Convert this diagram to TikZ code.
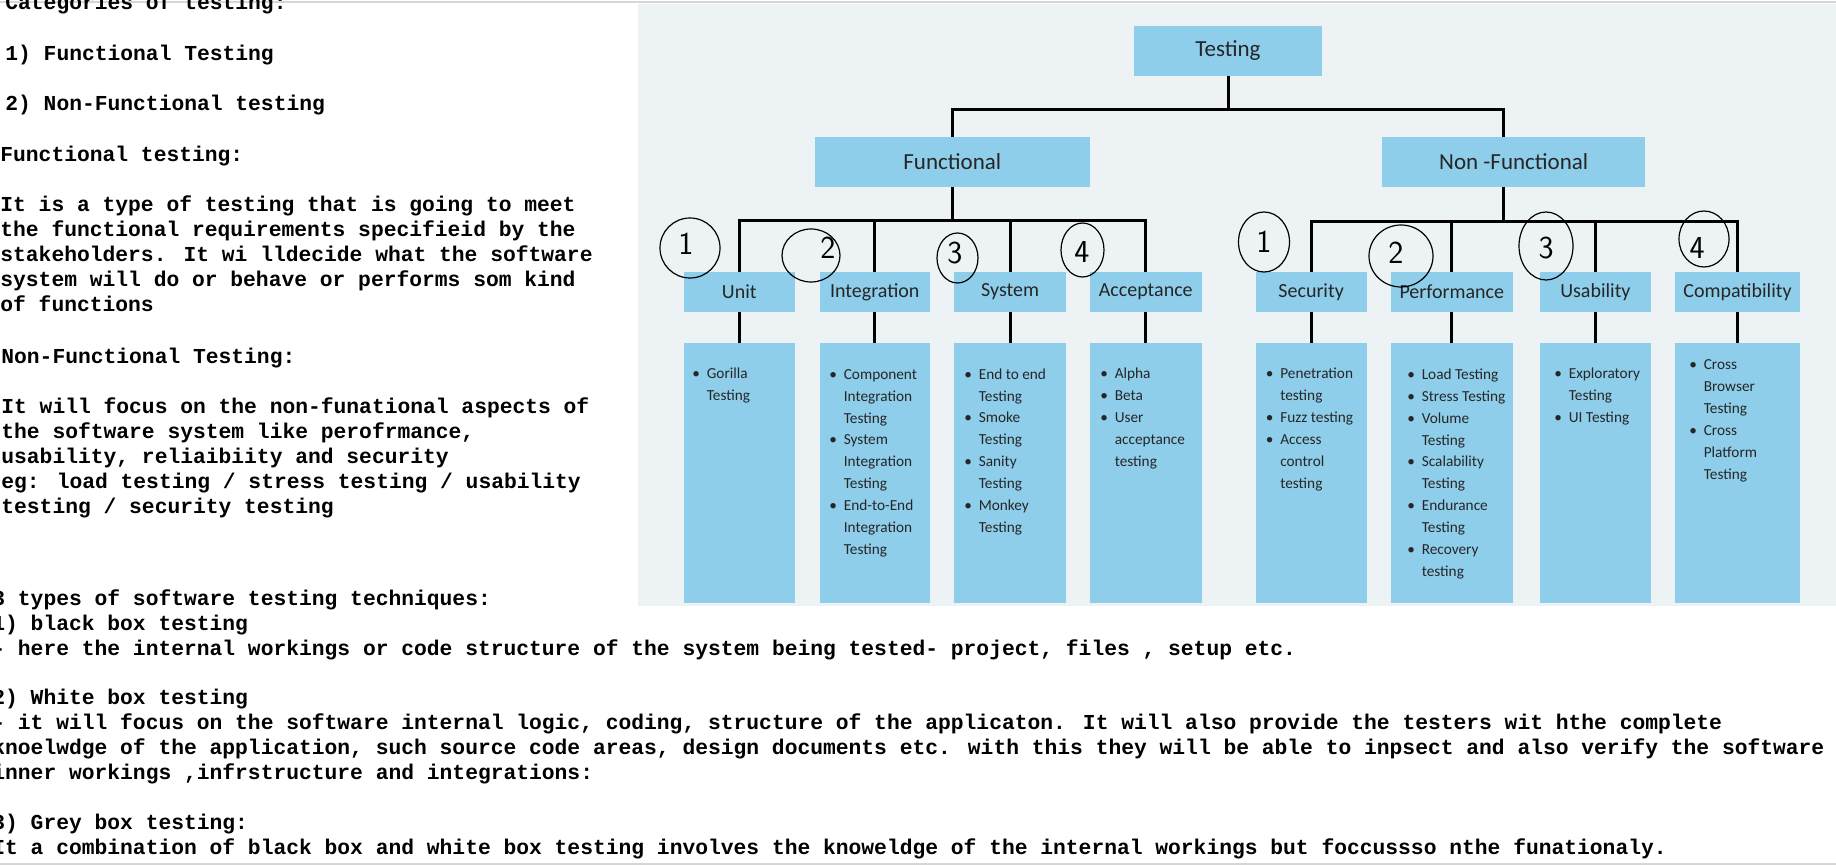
\documentclass[tikz,border=0pt]{standalone}
\usepackage{fontspec}
\setmainfont{Carlito}
\newfontfamily\codefont{Liberation Mono}
\usepackage{tikz}
\usetikzlibrary{positioning, shapes.geometric, calc}

\definecolor{boxblue}{RGB}{142,206,235}
\definecolor{panelgrey}{RGB}{237,242,245}
\definecolor{framegrey}{RGB}{214,214,214}

\newcommand{\bitem}{\makebox[7.2pt][l]{\textbullet}}
\newcommand{\bcont}{\hspace*{7.2pt}}

% multi-line nodes sit on the baseline of their last line
\tikzstyle{notes} = [font=\codefont\fontsize{10.65}{12.5}\selectfont\bfseries, inner sep=0pt, align=left, anchor=base west]
\tikzstyle{labelbox} = [fill=boxblue, inner sep=0pt, minimum width=55.5pt, minimum height=20pt, text=black!85, font=\fontsize{10}{12}\selectfont]
\tikzstyle{topbox} = [labelbox, minimum height=25pt, font=\fontsize{11.5}{14}\selectfont]
\tikzstyle{listbox} = [fill=boxblue, inner sep=0pt, minimum width=55.5pt, minimum height=130pt]
\tikzstyle{listtext} = [font=\fontsize{7.65}{11}\selectfont, inner sep=0pt, align=left, anchor=base west, text=black!85]
\tikzstyle{branch} = [line width=1.5pt, black]
\tikzstyle{penring} = [draw, ellipse, line width=0.6pt, inner sep=0pt]
\tikzstyle{pendigit} = [font=\sffamily\fontsize{16}{16}\selectfont, inner sep=0pt]

\begin{document}
\begin{tikzpicture}[x=0.5pt, y=-0.5pt]
	\useasboundingbox (0,0) rectangle (1836,865);
	
	\draw[framegrey, line width=0.75pt] (0,2) -- (1836,2);
	\draw[framegrey, line width=0.75pt] (0,864) -- (1836,864);
	\fill[panelgrey] (638,4) rectangle (1836,606);
	
	% notes on the left
	\node[notes] (cat) at (5,10) {Categories of testing:};
	\node[notes] (cat-1) at (5,61) {1) Functional Testing};
	\node[notes] (cat-2) at (5,111) {2) Non-Functional testing};
	\node[notes] (func-head) at (0,161.5) {Functional testing:};
	\node[notes] (func-body) at (0,311.5) {It is a type of testing that is going to meet\\the functional requirements specifieid by the\\stakeholders. It wi lldecide what the software\\system will do or behave or performs som kind\\of functions};
	\node[notes] (nonfunc-head) at (1,364) {Non-Functional Testing:};
	\node[notes] (nonfunc-body) at (1,513.3) {It will focus on the non-funational aspects of\\the software system like perofrmance,\\usability, reliaibiity and security\\eg: load testing / stress testing / usability\\testing / security testing};
	
	% notes at the bottom
	\node[notes] (black-box) at (-8,655) {3 types of software testing techniques:\\1) black box testing\\- here the internal workings or code structure of the system being tested- project, files , setup etc.};
	\node[notes] (white-box) at (-8,779.5) {2) White box testing\\- it will focus on the software internal logic, coding, structure of the applicaton. It will also provide the testers wit hthe complete\\knoelwdge of the application, such source code areas, design documents etc. with this they will be able to inpsect and also verify the software\\inner workings ,infrstructure and integrations:};
	\node[notes] (grey-box) at (-8,854) {3) Grey box testing:\\It a combination of black box and white box testing involves the knoweldge of the internal workings but foccussso nthe funationaly.};
	
	% tree
	\node[topbox, minimum width=94pt] (testing) at (1228,51) {Testing};
	\node[topbox, minimum width=137.5pt] (functional) at (952.3,162) {Functional};
	\node[topbox, minimum width=131.75pt] (nonfunctional) at (1513.7,162) {Non -Functional};
	
	\node[labelbox, minimum width=55.3pt] (unit) at (739.3,292) {Unit};
	\node[labelbox, minimum width=55.25pt] (integration) at (874.75,292) {Integration};
	\node[labelbox, minimum width=55.9pt] (system) at (1010.1,292) {System};
	\node[labelbox, minimum width=56pt] (acceptance) at (1145.75,292) {Acceptance};
	\node[labelbox, minimum width=55.4pt] (security) at (1311.1,292) {Security};
	\node[labelbox, minimum width=61.25pt] (performance) at (1451.75,292) {Performance};
	\node[labelbox, minimum width=55.2pt] (usability) at (1595.4,292) {Usability};
	\node[labelbox, minimum width=62.25pt] (compatibility) at (1737.5,292) {Compatibility};
	
	\node[listbox, minimum width=55.3pt] (unit-list) at (739.3,473) {};
	\node[listbox, minimum width=55.25pt] (integration-list) at (874.75,473) {};
	\node[listbox, minimum width=55.9pt] (system-list) at (1010.1,473) {};
	\node[listbox, minimum width=56pt] (acceptance-list) at (1145.75,473) {};
	\node[listbox, minimum width=55.4pt] (security-list) at (1311.1,473) {};
	\node[listbox, minimum width=61.25pt] (performance-list) at (1451.75,473) {};
	\node[listbox, minimum width=55.2pt] (usability-list) at (1595.4,473) {};
	\node[listbox, minimum width=62.25pt] (compatibility-list) at (1737.5,473) {};
	
	% first lines at y=379 (370 for the last box), 22 per line
	\node[listtext] (unit-text) at (692,401) {\bitem Gorilla\\\bcont Testing};
	\node[listtext] (integration-text) at (829,555) {\bitem Component\\\bcont Integration\\\bcont Testing\\\bitem System\\\bcont Integration\\\bcont Testing\\\bitem End-to-End\\\bcont Integration\\\bcont Testing};
	\node[listtext] (system-text) at (964,533) {\bitem End to end\\\bcont Testing\\\bitem Smoke\\\bcont Testing\\\bitem Sanity\\\bcont Testing\\\bitem Monkey\\\bcont Testing};
	\node[listtext] (acceptance-text) at (1100,467) {\bitem Alpha\\\bitem Beta\\\bitem User\\\bcont acceptance\\\bcont testing};
	\node[listtext] (security-text) at (1265.5,489) {\bitem Penetration\\\bcont testing\\\bitem Fuzz testing\\\bitem Access\\\bcont control\\\bcont testing};
	\node[listtext] (performance-text) at (1407,577) {\bitem Load Testing\\\bitem Stress Testing\\\bitem Volume\\\bcont Testing\\\bitem Scalability\\\bcont Testing\\\bitem Endurance\\\bcont Testing\\\bitem Recovery\\\bcont testing};
	\node[listtext] (usability-text) at (1554,423) {\bitem Exploratory\\\bcont Testing\\\bitem UI Testing};
	\node[listtext] (compatibility-text) at (1689,480) {\bitem Cross\\\bcont Browser\\\bcont Testing\\\bitem Cross\\\bcont Platform\\\bcont Testing};
	
	\draw[branch] (testing.south) -- ++(0,33) -| (functional.north);
	\draw[branch] (testing.south) -- ++(0,33) -| ([xshift=-5pt]nonfunctional.north);
	\foreach \kid in {unit, integration, system, acceptance}
		\draw[branch] (functional.south) -- ++(0,33) -| (\kid.north);
	\foreach \kid in {security, performance, usability, compatibility}
		\draw[branch] ([xshift=-5pt]nonfunctional.south) -- ++(0,34) -| (\kid.north);
	\foreach \kid in {unit, integration, system, acceptance, security, performance, usability, compatibility}
		\draw[branch] (\kid.south) -- (\kid-list.north);
	
	% pen marks on top
	\node[penring, minimum width=30pt, minimum height=30pt] (f-ring1) at (690,248) {};
	\node[pendigit] (f-num1) at (686,244) {1};
	\node[penring, minimum width=29pt, minimum height=26.5pt] (f-ring2) at (811,255.5) {};
	\node[pendigit] (f-num2) at (828,248) {2};
	\node[penring, minimum width=20.5pt, minimum height=25pt] (f-ring3) at (957.5,258) {};
	\node[pendigit] (f-num3) at (955,253) {3};
	\node[penring, minimum width=21.5pt, minimum height=27pt] (f-ring4) at (1082.5,250) {};
	\node[pendigit] (f-num4) at (1082,252) {4};
	\node[penring, minimum width=25.5pt, minimum height=30pt] (n-ring1) at (1264,242) {};
	\node[pendigit] (n-num1) at (1264,242) {1};
	\node[penring, minimum width=32pt, minimum height=31pt] (n-ring2) at (1401,256) {};
	\node[pendigit] (n-num2) at (1396,253) {2};
	\node[penring, minimum width=27pt, minimum height=34pt] (n-ring3) at (1546,246) {};
	\node[pendigit] (n-num3) at (1546,248) {3};
	\node[penring, minimum width=25pt, minimum height=28pt] (n-ring4) at (1704,239) {};
	\node[pendigit] (n-num4) at (1697,248) {4};
	
\end{tikzpicture}
\end{document}
